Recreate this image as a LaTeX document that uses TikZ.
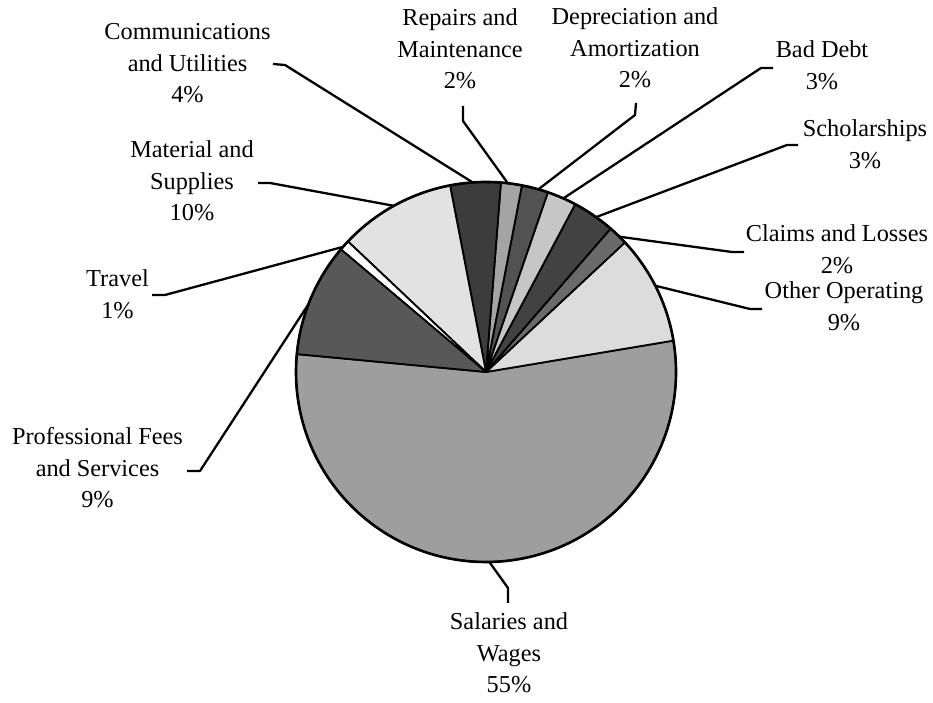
\documentclass[tikz,border=0pt]{standalone}
\usepackage{fontspec}
\setmainfont{Liberation Serif}
\definecolor{salcol}{HTML}{9E9E9E}
\definecolor{profcol}{HTML}{585858}
\definecolor{travcol}{HTML}{FFFFFF}
\definecolor{matcol}{HTML}{E2E2E2}
\definecolor{commcol}{HTML}{3C3C3C}
\definecolor{repcol}{HTML}{A4A4A4}
\definecolor{depcol}{HTML}{525252}
\definecolor{badcol}{HTML}{C6C6C6}
\definecolor{scholcol}{HTML}{424242}
\definecolor{claimcol}{HTML}{6A6A6A}
\definecolor{othcol}{HTML}{DCDCDC}
\begin{document}
\begin{tikzpicture}[x=1pt,y=1pt,
  lbl/.style={anchor=base, inner sep=0pt, font=\fontsize{24.3}{31.5}\selectfont},
  leader/.style={draw=black, line width=2.3pt, line join=round},
  slice/.style={draw=black, line width=1.8pt, line join=round}]
\useasboundingbox (0,0) rectangle (933,703);
\coordinate (c) at (486,331);
\def\R{190}
% slices
\foreach \a/\b/\col in {174.6/369.5/salcol, 9.5/43/othcol, 43/49/claimcol,
  49/62/scholcol, 62/71/badcol, 71/79.1/depcol, 79.1/85.5/repcol,
  85.5/100.9/commcol, 100.9/136.6/matcol, 136.6/139.8/travcol, 139.8/174.6/profcol}{
  \filldraw[slice, fill=\col] (c) -- ++(\a:\R) arc[start angle=\a, end angle=\b, radius=\R] -- cycle;
}
\draw[line width=2.6pt] (c) circle[radius=\R];
% labels
\node[lbl] (comm) at (187.5,663) {\begin{tabular}[t]{@{}c@{}}Communications\\and Utilities\\4\%\end{tabular}};
\node[lbl] (rep) at (460,677) {\begin{tabular}[t]{@{}c@{}}Repairs and\\Maintenance\\2\%\end{tabular}};
\node[lbl] (dep) at (635,678) {\begin{tabular}[t]{@{}c@{}}Depreciation and\\Amortization\\2\%\end{tabular}};
\node[lbl] (bad) at (822,645) {\begin{tabular}[t]{@{}c@{}}Bad Debt\\3\%\end{tabular}};
\node[lbl] (schol) at (865,566) {\begin{tabular}[t]{@{}c@{}}Scholarships\\3\%\end{tabular}};
\node[lbl] (claim) at (837,461) {\begin{tabular}[t]{@{}c@{}}Claims and Losses\\2\%\end{tabular}};
\node[lbl] (oth) at (844,404) {\begin{tabular}[t]{@{}c@{}}Other Operating\\9\%\end{tabular}};
\node[lbl] (sal) at (509,73) {\begin{tabular}[t]{@{}c@{}}Salaries and\\Wages\\55\%\end{tabular}};
\node[lbl] (prof) at (97.5,258) {\begin{tabular}[t]{@{}c@{}}Professional Fees\\and Services\\9\%\end{tabular}};
\node[lbl] (trav) at (117.5,416) {\begin{tabular}[t]{@{}c@{}}Travel\\1\%\end{tabular}};
\node[lbl] (mat) at (192,545) {\begin{tabular}[t]{@{}c@{}}Material and\\Supplies\\10\%\end{tabular}};
% leader coordinates
\coordinate (commA) at (273,639); \coordinate (commB) at (285,638); \path (c) ++(94:\R) coordinate (commP);
\coordinate (repA) at (463,597); \coordinate (repB) at (463,582); \path (c) ++(83.4:\R) coordinate (repP);
\coordinate (depA) at (636,600); \coordinate (depB) at (635,588); \path (c) ++(74:\R) coordinate (depP);
\coordinate (badA) at (773,635); \coordinate (badB) at (761,635); \path (c) ++(66:\R) coordinate (badP);
\coordinate (scholA) at (798,558); \coordinate (scholB) at (787,558); \path (c) ++(54.6:\R) coordinate (scholP);
\coordinate (claimA) at (744,451); \coordinate (claimB) at (732,451); \path (c) ++(45.4:\R) coordinate (claimP);
\coordinate (othA) at (762,394); \coordinate (othB) at (750,394); \path (c) ++(27:\R) coordinate (othP);
\coordinate (salA) at (508,100); \coordinate (salB) at (508,115); \path (c) ++(271:\R) coordinate (salP);
\coordinate (profA) at (187,232); \coordinate (profB) at (200,232); \path (c) ++(159:\R) coordinate (profP);
\coordinate (travA) at (152,408); \coordinate (travB) at (165,408); \path (c) ++(138.8:\R) coordinate (travP);
\coordinate (matA) at (258,520); \coordinate (matB) at (270,520); \path (c) ++(119:\R) coordinate (matP);
% leaders
\foreach \n in {comm,rep,dep,bad,schol,claim,oth,sal,prof,trav,mat}{
  \draw[leader] (\n A) -- (\n B) -- (\n P);
}
\end{tikzpicture}
\end{document}
